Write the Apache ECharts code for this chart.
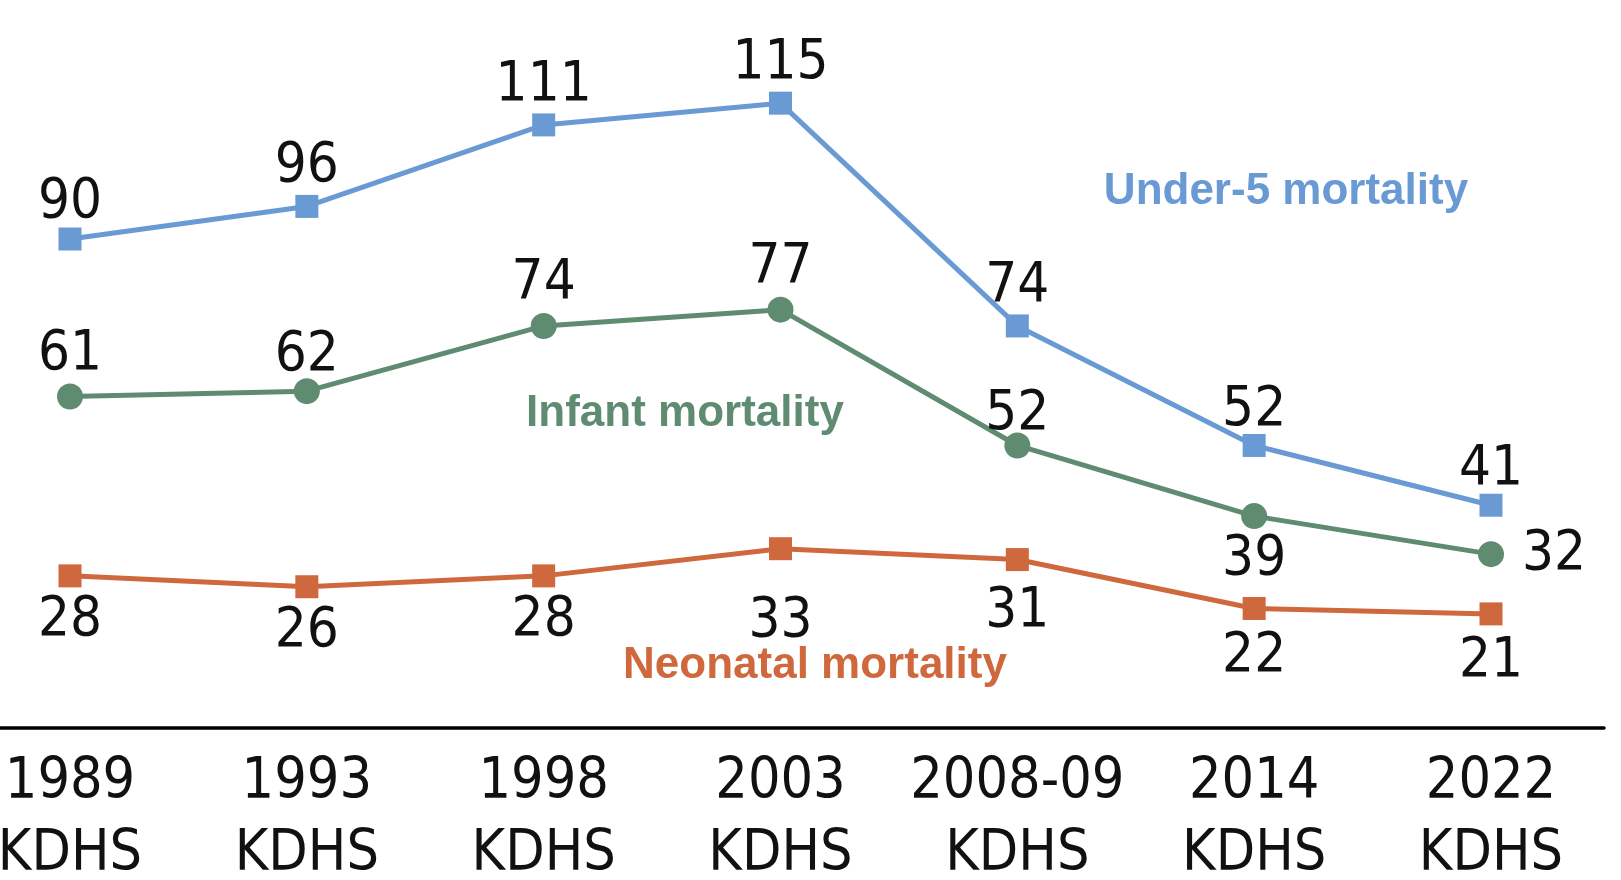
<!DOCTYPE html>
<html>
<head>
<meta charset="utf-8">
<script src="https://cdn.jsdelivr.net/npm/echarts@6/dist/echarts.min.js"></script>
<style>
html,body{margin:0;padding:0;background:#fff;}
#chart{width:1621px;height:880px;}
</style>
</head>
<body>
<div id="chart"></div>
<script>
// ---- data ----
const categories = ['1989\nKDHS', '1993\nKDHS', '1998\nKDHS', '2003\nKDHS', '2008-09\nKDHS', '2014\nKDHS', '2022\nKDHS'];
const under5 = [90, 96, 111, 115, 74, 52, 41];
const infant = [61, 62, 74, 77, 52, 39, 32];
const neonatal = [28, 26, 28, 33, 31, 22, 21];
const seriesNames = ['Under-5 mortality', 'Infant mortality', 'Neonatal mortality'];

// ---- styles ----
const BLUE = '#6A9AD3', GREEN = '#5F8B70', ORANGE = '#D0683E';
const NUM_FONT = "'Liberation Sans Narrow', 'DejaVu Sans Condensed', 'Liberation Sans', sans-serif";
const TITLE_FONT = "'Liberation Sans', sans-serif";

const chart = echarts.init(document.getElementById('chart'), null, {renderer: 'canvas'});

function labelBase(pos, dist) {
  return {show: true, position: pos, distance: dist, color: '#111', fontFamily: NUM_FONT, fontSize: 56};
}

// per-point label overrides (label placement only)
const under5Overrides = {0: {offset: [0, 3]}, 5: {offset: [0, 4]}, 6: {offset: [0, 4]}};
const infantOverrides = {1: {offset: [0, 6]}, 4: {offset: [0, 11]}, 5: {position: 'bottom', distance: 2}, 6: {position: 'right', distance: 18}};
const neonatalOverrides = {3: {offset: [0, 28]}, 4: {offset: [0, 7]}, 5: {offset: [0, 3]}, 6: {offset: [0, 3]}};

function build(values, overrides) {
  return values.map((v, i) => overrides && overrides[i] ? {value: v, label: overrides[i]} : v);
}

const option = {
  animation: false,
  backgroundColor: '#fff',
  grid: [
    {left: 70, right: 130, top: 76, bottom: 152, outerBoundsMode: 'none', containLabel: false},
    {left: 0, right: 17, top: 76, bottom: 152, outerBoundsMode: 'none', containLabel: false}
  ],
  xAxis: [
    {
      type: 'category', gridIndex: 0, data: categories, boundaryGap: false,
      axisLine: {show: false}, axisTick: {show: false},
      axisLabel: {color: '#111', fontFamily: NUM_FONT, fontSize: 57, lineHeight: 72, margin: 19, interval: 0}
    },
    {
      type: 'value', gridIndex: 1, min: 0, max: 1,
      axisLine: {show: true, lineStyle: {color: '#000', width: 3.5}},
      axisTick: {show: false}, axisLabel: {show: false}, splitLine: {show: false}
    }
  ],
  yAxis: [
    {type: 'value', gridIndex: 0, min: 0, max: 120, show: false, splitLine: {show: false}},
    {type: 'value', gridIndex: 1, min: 0, max: 1, show: false, splitLine: {show: false}}
  ],
  series: [
    {
      name: seriesNames[0], type: 'line', data: build(under5, under5Overrides),
      symbol: 'rect', symbolSize: 23, color: BLUE,
      lineStyle: {color: BLUE, width: 5}, itemStyle: {color: BLUE},
      label: labelBase('top', 0)
    },
    {
      name: seriesNames[1], type: 'line', data: build(infant, infantOverrides),
      symbol: 'circle', symbolSize: 26, color: GREEN,
      lineStyle: {color: GREEN, width: 5}, itemStyle: {color: GREEN},
      label: labelBase('top', 1)
    },
    {
      name: seriesNames[2], type: 'line', data: build(neonatal, neonatalOverrides),
      symbol: 'rect', symbolSize: 23, color: ORANGE,
      lineStyle: {color: ORANGE, width: 5}, itemStyle: {color: ORANGE},
      label: labelBase('bottom', 5)
    }
  ],
  graphic: [
    {type: 'text', x: 1286, y: 192, style: {text: seriesNames[0], fill: BLUE, font: "bold 44px " + TITLE_FONT, textAlign: 'center', textVerticalAlign: 'middle'}},
    {type: 'text', x: 685, y: 414, style: {text: seriesNames[1], fill: GREEN, font: "bold 44px " + TITLE_FONT, textAlign: 'center', textVerticalAlign: 'middle'}},
    {type: 'text', x: 815, y: 666, style: {text: seriesNames[2], fill: ORANGE, font: "bold 44px " + TITLE_FONT, textAlign: 'center', textVerticalAlign: 'middle'}}
  ]
};
chart.setOption(option);
</script>
</body>
</html>
